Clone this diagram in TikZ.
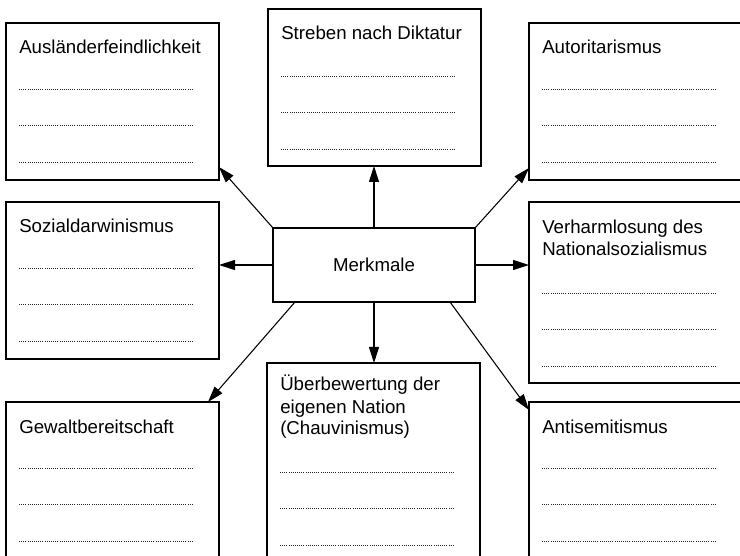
\documentclass[tikz,border=0pt]{standalone}
\usepackage{fontspec}
\setmainfont{Liberation Sans}
\usetikzlibrary{calc}
\usetikzlibrary{arrows.meta}
\def\Einzug{13}
\def\Zeile{36.5}
\def\Punktlaenge{174}

\begin{document}
\begin{tikzpicture}[x=0.75pt,y=-0.75pt,
    feld/.style={draw, line width=1.4pt, inner sep=0pt, outer sep=0pt, anchor=north west,
      minimum width=159.75pt, minimum height=117.75pt},
    rechts/.style={minimum width=163pt},
    titel/.style={anchor=base west, align=left, inner sep=0pt,
      font=\fontsize{14}{16.5}\selectfont},
    punkte/.style={line width=0.7pt, dash pattern=on 0.6pt off 1pt, black!85},
    pfeil/.style={line width=0.8pt, -{Triangle[length=12pt,width=7.5pt]}}]
  \useasboundingbox (0,0) rectangle (740,556);
  % boxes
  \node[feld] (ausl) at (6,23) {};
  \node[feld] (dikt) at (268,9) {};
  \node[feld, rechts] (auto) at (529,23) {};
  \node[feld] (sozi) at (6,202) {};
  \node[feld, rechts, minimum height=135.75pt] (verh) at (529,202) {};
  \node[feld] (gewa) at (6,402) {};
  \node[feld, minimum height=150pt] (ueber) at (267,363) {};
  \node[feld, rechts] (anti) at (529,402) {};
  % centre
  \node[draw, line width=1.4pt, inner sep=0pt, outer sep=0pt,
    minimum width=151.5pt, minimum height=55.5pt,
    font=\fontsize{14}{16.5}\selectfont] (merk) at (374,265) {Merkmale};
  % titles (base = last line)
  \node[titel] (ausl-t) at ($(ausl.north west)+(\Einzug,31)$) {Ausländerfeindlichkeit};
  \node[titel] (dikt-t) at ($(dikt.north west)+(\Einzug,31)$) {Streben nach Diktatur};
  \node[titel] (auto-t) at ($(auto.north west)+(\Einzug,31)$) {Autoritarismus};
  \node[titel] (sozi-t) at ($(sozi.north west)+(\Einzug,31)$) {Sozialdarwinismus};
  \node[titel] (verh-t) at ($(verh.north west)+(\Einzug,54)$) {Verharmlosung des\\Nationalsozialismus};
  \node[titel] (gewa-t) at ($(gewa.north west)+(\Einzug,31)$) {Gewaltbereitschaft};
  \node[titel] (ueber-t) at ($(ueber.north west)+(\Einzug,72)$) {Überbewertung der\\eigenen Nation\\(Chauvinismus)};
  \node[titel] (anti-t) at ($(anti.north west)+(\Einzug,31)$) {Antisemitismus};
  % dotted lines
  \foreach \f/\d in {ausl/66,dikt/67,auto/66,sozi/66,verh/91,gewa/66,ueber/109,anti/66}
    \foreach \k in {0,1,2}
      \draw[punkte] ($(\f.north west)+(\Einzug,\d+\k*\Zeile)$) -- ++(\Punktlaenge,0);
  % arrows
  \draw[pfeil] (merk.north west) -- ($(ausl.south east)+(0,-13)$);
  \draw[pfeil] (merk.north) -- (merk.north |- dikt.south);
  \draw[pfeil] (merk.north east) -- ($(auto.south west)+(0,-12)$);
  \draw[pfeil] (merk.west) -- (merk.west -| sozi.east);
  \draw[pfeil] (merk.east) -- (merk.east -| verh.west);
  \draw[pfeil] ($(merk.south west)+(22,0)$) -- ($(gewa.north east)+(-11,0)$);
  \draw[pfeil] (merk.south) -- (merk.south |- ueber.north);
  \draw[pfeil] ($(merk.south east)+(-25,0)$) -- ($(anti.north west)+(0,8)$);
\end{tikzpicture}
\end{document}
